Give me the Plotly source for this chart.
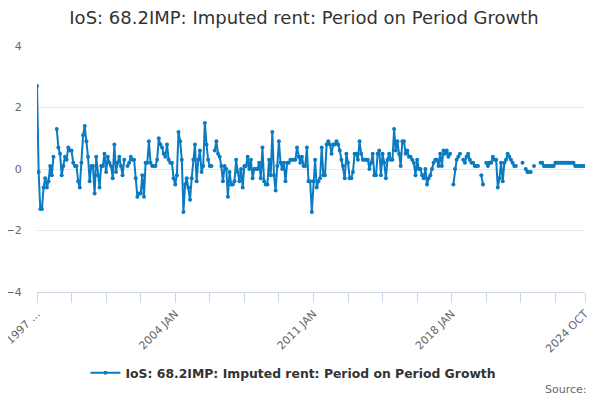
import plotly.graph_objects as go

months = ["JAN", "FEB", "MAR", "APR", "MAY", "JUN", "JUL", "AUG", "SEP", "OCT", "NOV", "DEC"]

y1997 = [2.7, -0.1, -1.3, -1.3, -0.6, -0.3, -0.6, -0.4, 0.1, -0.2, 0.4, None]
y1998 = [1.3, 0.7, 0.5, -0.2, 0.1, 0.4, 0.3, 0.7, 0.6, 0.6, 0.2, 0.1]
y1999 = [0.1, -0.4, -0.6, 0.2, 1.1, 1.4, 0.9, 0.4, -0.4, 0.1, 0.1, -0.8]
y2000 = [0.4, -0.2, -0.6, 0.1, 0.1, 0.5, -0.1, 0.4, 0.2, 0.1, -0.3, 0.8]
y2001 = [-0.1, 0.2, 0.4, 0.1, -0.2, 0.3, None, 0.1, 0.2, 0.4, 0.3, 0.3]
y2002 = [-0.3, -0.9, -0.8, -0.8, -0.2, -0.9, 0.2, 0.2, 0.9, 0.2, 0.1, 0.1]
y2003 = [0.1, 0.3, 1.0, 0.8, 0.7, 0.5, 0.4, 0.8, 0.3, 0.2, 0.2, -0.3]
y2004 = [-0.5, -0.2, 1.2, 0.9, 0.3, -1.4, -0.5, -0.3, -0.6, -1.0, -0.3, 0.3]
y2005 = [0.8, -0.4, 0.3, 0.6, -0.1, 0.1, 1.5, 0.8, 0.3, 0.1, 0.1, None]
y2006 = [0.6, 0.9, 0.5, 0.4, 0.1, -0.4, 0.1, 0.0, -0.9, -0.1, -0.5, -0.5]
y2007 = [-0.4, 0.3, -0.1, -0.4, 0.0, -0.6, 0.1, 0.1, 0.4, 0.0, 0.3, -0.3]
y2008 = [0.0, 0.0, 0.0, 0.2, -0.3, 0.7, -0.4, -0.5, -0.5, 0.3, -0.2, 1.2]
y2009 = [-0.2, -0.7, 0.1, 0.9, 0.2, 0.0, 0.2, -0.4, 0.2, 0.2, 0.3, 0.3]
y2010 = [0.3, 0.3, 0.7, 0.4, 0.2, 0.4, 0.1, 0.1, 0.7, -0.4, -0.4, -1.4]
y2011 = [-0.4, 0.3, -0.6, -0.4, -0.3, 0.7, -0.2, -0.2, 0.8, 0.9, 0.8, 0.5]
y2012 = [0.8, 0.8, 0.9, 0.8, 0.6, 0.3, 0.1, -0.3, 0.5, 0.2, -0.3, -0.3]
y2013 = [-0.1, 0.5, 0.5, 0.3, 0.9, 0.5, 0.3, 0.3, 0.3, 0.3, 0.0, 0.2]
y2014 = [0.5, -0.2, -0.2, 0.5, 0.6, -0.2, 0.5, 0.2, -0.3, 0.3, 0.5, 0.3]
y2015 = [0.3, 1.3, 0.6, 0.9, 0.5, 0.1, 0.9, 0.9, 0.5, 0.6, 0.4, 0.4]
y2016 = [0.3, 0.2, -0.2, 0.3, 0.0, 0.0, -0.2, -0.3, 0.0, -0.5, -0.3, -0.2]
y2017 = [0.0, 0.2, 0.3, 0.3, 0.1, 0.5, 0.1, 0.6, 0.5, 0.6, 0.4, 0.5]
y2018 = [None, -0.5, 0.0, 0.3, 0.4, 0.5, None, 0.3, 0.2, 0.4, 0.5, 0.3]
y2019 = [0.2, 0.2, 0.1, 0.1, 0.1, None, -0.2, -0.5, None, 0.2, 0.1, 0.2]
y2020 = [0.2, 0.4, 0.3, 0.3, -0.6, -0.3, 0.2, -0.4, 0.2, 0.3, 0.5, 0.4]
y2021 = [0.3, 0.2, 0.1, 0.1, None, None, None, 0.2, None, 0.0, -0.1, -0.1]
y2022 = [-0.1, None, 0.1, None, None, None, 0.2, 0.2, 0.1, 0.1, 0.1, 0.1]
y2023 = [0.1, 0.1, 0.1, 0.2, 0.2, 0.2, 0.2, 0.2, 0.2, 0.2, 0.2, 0.2]
y2024 = [0.2, 0.2, 0.2, 0.1, 0.1, 0.1, 0.1, 0.1, 0.1, 0.1]

yearly = [y1997, y1998, y1999, y2000, y2001, y2002, y2003, y2004, y2005, y2006,
          y2007, y2008, y2009, y2010, y2011, y2012, y2013, y2014, y2015, y2016,
          y2017, y2018, y2019, y2020, y2021, y2022, y2023, y2024]

categories = []
values = []
for k, vals in enumerate(yearly):
    year = 1997 + k
    for m, v in zip(months, vals):
        categories.append(f"{year} {m}")
        values.append(v)

label_map = {0: "1997 …", 84: "2004 JAN", 168: "2011 JAN", 252: "2018 JAN",
             len(categories) - 1: "2024 OCT"}
tick_idx = list(range(0, len(categories), 21)) + [len(categories) - 1]
tickvals = [categories[i] for i in tick_idx]
ticktext = [label_map.get(i, "") for i in tick_idx]

series_name = "IoS: 68.2IMP: Imputed rent: Period on Period Growth"
color = "#0a7bc2"

fig = go.Figure()
fig.add_trace(go.Scatter(
    x=categories, y=values, name=series_name, mode="lines+markers",
    line=dict(color=color, width=2), marker=dict(color=color, size=4),
    connectgaps=False,
))

# page body has an 8px margin, so the figure is 592x392 and offset accordingly
fig.update_layout(
    width=592, height=392,
    margin=dict(l=29, r=15, t=38, b=108),
    paper_bgcolor="white", plot_bgcolor="white",
    font=dict(family="DejaVu Sans", color="#666666", size=11),
    title=dict(text=series_name, x=0.5, xanchor="center", y=0.975, yanchor="middle",
               font=dict(size=18, color="#333333", family="DejaVu Sans")),
    showlegend=True,
    legend=dict(orientation="h", x=0.468, xanchor="center", y=-0.33, yanchor="middle",
                font=dict(size=12.4, color="#333333", family="DejaVu Sans", weight="bold"),
                itemwidth=30),
    xaxis=dict(type="category", range=[0, len(categories) - 1],
               tickmode="array", tickvals=tickvals, ticktext=ticktext,
               tickangle=-45, ticks="outside", ticklen=10, tickcolor="#ccd6eb",
               showline=True, linecolor="#ccd6eb", linewidth=1,
               showgrid=False, zeroline=False, automargin=False,
               tickfont=dict(size=11, color="#666666")),
    yaxis=dict(range=[-4, 4], dtick=2, tick0=0, showgrid=True, gridcolor="#e6e6e6",
               zeroline=False, showline=False, ticks="outside", ticklen=12,
               tickcolor="rgba(0,0,0,0)", automargin=False,
               tickfont=dict(size=11, color="#666666")),
    annotations=[dict(text="Source:", x=1, xref="paper", xanchor="right",
                      y=-0.395, yref="paper", yanchor="middle", showarrow=False,
                      xshift=4, font=dict(size=11, color="#666666"))],
)

fig.write_html("out.html")
